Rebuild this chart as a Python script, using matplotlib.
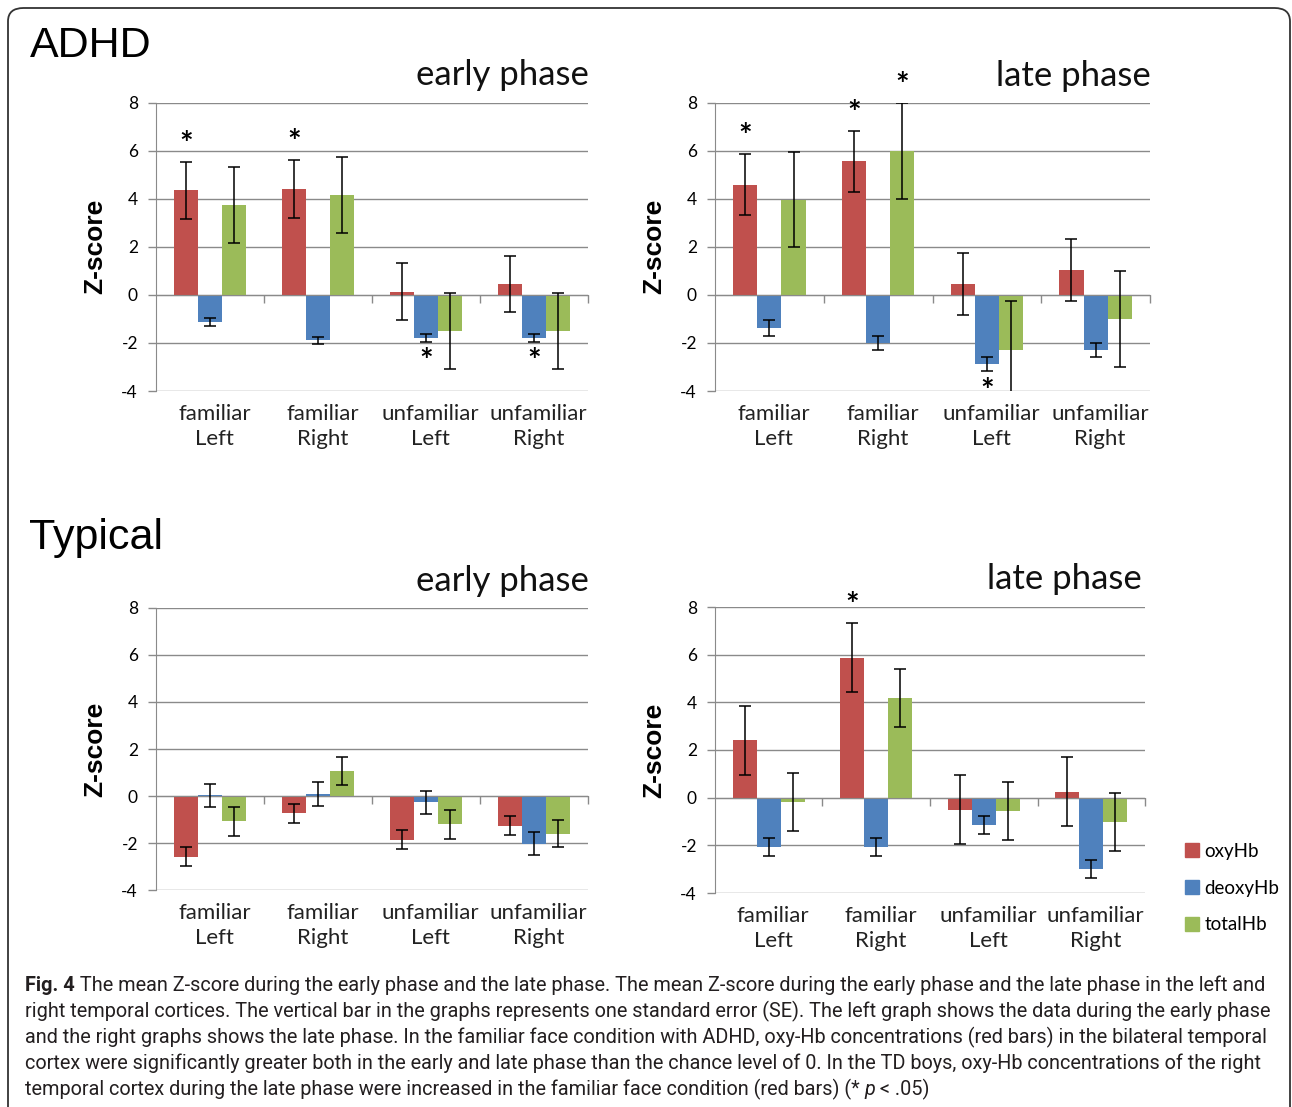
import matplotlib
matplotlib.use("Agg")
import matplotlib.pyplot as plt
import numpy as np
from matplotlib.patches import Patch, FancyBboxPatch
from matplotlib.transforms import blended_transform_factory

W, H = 1292, 1107

categories = ["familiar\nLeft", "familiar\nRight", "unfamiliar\nLeft", "unfamiliar\nRight"]
series = ["oxyHb", "deoxyHb", "totalHb"]
colors = ["#C0504D", "#4F81BD", "#9BBB59"]
yticks = [-4, -2, 0, 2, 4, 6, 8]
ytick_labels = ["-4", "-2", "0", "2", "4", "6", "8"]

# mean z-score, rows = oxy, deoxy, total
adhd_early_mean = [[4.35, 4.41, 0.14, 0.46],
                   [-1.12, -1.89, -1.78, -1.78],
                   [3.76, 4.15, -1.50, -1.50]]
adhd_early_se = [[1.17, 1.20, 1.17, 1.17],
                 [0.16, 0.15, 0.17, 0.17],
                 [1.58, 1.58, 1.58, 1.58]]
adhd_late_mean = [[4.59, 5.56, 0.46, 1.04],
                  [-1.39, -2.02, -2.88, -2.29],
                  [3.97, 5.99, -2.29, -1.00]]
adhd_late_se = [[1.26, 1.26, 1.30, 1.30],
                [0.33, 0.29, 0.30, 0.29],
                [1.98, 2.00, 2.03, 1.99]]
td_early_mean = [[-2.58, -0.73, -1.85, -1.25],
                 [0.03, 0.09, -0.27, -2.02],
                 [-1.07, 1.08, -1.20, -1.59]]
td_early_se = [[0.40, 0.40, 0.40, 0.40],
               [0.48, 0.49, 0.50, 0.50],
               [0.62, 0.59, 0.62, 0.59]]
td_late_mean = [[2.41, 5.88, -0.50, 0.25],
                [-2.07, -2.07, -1.15, -2.98],
                [-0.18, 4.17, -0.57, -1.02]]
td_late_se = [[1.45, 1.44, 1.45, 1.44],
              [0.37, 0.39, 0.39, 0.37],
              [1.20, 1.21, 1.21, 1.20]]

# significance marks: (category, series, side)
adhd_early_stars = [(0, 0, "up"), (1, 0, "up"), (2, 1, "down"), (3, 1, "down")]
adhd_late_stars = [(0, 0, "up"), (1, 0, "up"), (1, 2, "up"), (2, 1, "down")]
td_early_stars = []
td_late_stars = [(1, 0, "up")]

caption_lines = [
    [("Fig. 4", "bold"), (" The mean Z-score during the early phase and the late phase. The mean Z-score during the early phase and the late phase in the left and", "normal")],
    [("right temporal cortices. The vertical bar in the graphs represents one standard error (SE). The left graph shows the data during the early phase", "normal")],
    [("and the right graphs shows the late phase. In the familiar face condition with ADHD, oxy-Hb concentrations (red bars) in the bilateral temporal", "normal")],
    [("cortex were significantly greater both in the early and late phase than the chance level of 0. In the TD boys, oxy-Hb concentrations of the right", "normal")],
    [("temporal cortex during the late phase were increased in the familiar face condition (red bars) (* ", "normal"), ("p", "italic"), (" < .05)", "normal")],
]

CHART_FONT = ["Lato", "DejaVu Sans"]
ARIAL = ["Liberation Sans", "DejaVu Sans"]
CAP_FONT = ["Roboto", "DejaVu Sans"]
GRID = "#8a8a8a"

fig = plt.figure(figsize=(W / 100, H / 100), dpi=100)


def fx(x):
    return x / W


def fy(y):
    return 1 - y / H


def panel(box, mean, se, stars, title, title_xy):
    l, t, r, b = box
    ax = fig.add_axes([fx(l), fy(b), fx(r - l), (b - t) / H])
    x = np.arange(len(categories))
    bw = 0.222
    for i in range(len(series)):
        ax.bar(x + (i - 1) * bw, mean[i], bw, color=colors[i], zorder=2)
        ax.errorbar(x + (i - 1) * bw, mean[i], yerr=se[i], fmt="none",
                    ecolor="black", elinewidth=1.1, capsize=4.5, capthick=1.1, zorder=3)
    # asterisks just past the end of the error bar
    for c, s, side in stars:
        xs = c + (s - 1) * bw
        if side == "up":
            ax.annotate("*", (xs, mean[s][c] + se[s][c]), xytext=(0, 12),
                        textcoords="offset points", ha="center", va="center",
                        fontsize=23, fontweight="bold", family=CHART_FONT,
                        annotation_clip=False)
        else:
            ax.annotate("*", (xs, mean[s][c] - se[s][c]), xytext=(0, -15),
                        textcoords="offset points", ha="center", va="center",
                        fontsize=23, fontweight="bold", family=CHART_FONT,
                        annotation_clip=False)

    ax.set_xlim(-0.5, len(categories) - 0.5)
    ax.set_ylim(-4, 8)
    ax.set_yticks(yticks)
    ax.set_yticklabels(ytick_labels, family=CHART_FONT, fontsize=12.5)
    ax.yaxis.grid(True, color=GRID, lw=1.0, zorder=0)
    ax.set_axisbelow(True)
    for sp in ["top", "right"]:
        ax.spines[sp].set_visible(False)
    ax.spines["left"].set_color(GRID)
    ax.spines["bottom"].set_position(("data", 0))
    ax.spines["bottom"].set_color(GRID)
    ax.spines["bottom"].set_zorder(2.5)
    ax.set_xticks(x + 0.5)
    ax.set_xticklabels([])
    ax.tick_params(axis="x", direction="out", length=6, color=GRID, width=1)
    ax.tick_params(axis="y", direction="out", length=6, color=GRID, width=1, pad=7)

    tr = blended_transform_factory(ax.transData, ax.transAxes)
    for i, lab in enumerate(categories):
        ax.annotate(lab, (i + 0.04, 0), xycoords=tr, xytext=(0, -9.5), textcoords="offset points",
                    ha="center", va="top", fontsize=16, family=CHART_FONT,
                    linespacing=1.28, color="#222222")
    ax.annotate("Z-score", (0, 0.5), xycoords="axes fraction", xytext=(-44, 0),
                textcoords="offset points", rotation=90, ha="center", va="center",
                fontsize=19, fontweight="bold", family=ARIAL)
    fig.text(fx(title_xy[0]), fy(title_xy[1]), title, ha="right", va="baseline",
             fontsize=25, family=CHART_FONT, color="#111111")
    return ax


panel((156, 102.7, 588, 391), adhd_early_mean, adhd_early_se, adhd_early_stars, "early phase", (589, 85))
panel((715, 102.7, 1150, 391), adhd_late_mean, adhd_late_se, adhd_late_stars, "late phase", (1151, 86))
panel((156, 607.7, 588, 890.3), td_early_mean, td_early_se, td_early_stars, "early phase", (589, 591))
panel((715, 607, 1145, 893), td_late_mean, td_late_se, td_late_stars, "late phase", (1142, 589))

fig.text(fx(30), fy(57), "ADHD", ha="left", va="baseline", fontsize=31, family=ARIAL)
fig.text(fx(29), fy(549), "Typical", ha="left", va="baseline", fontsize=31, family=ARIAL)

handles = [Patch(color=c) for c in colors]
fig.legend(handles, series, loc="upper left", bbox_to_anchor=(fx(1168), fy(826)),
           frameon=False, handlelength=0.75, handleheight=0.75, handletextpad=0.3,
           labelspacing=1.05, prop={"family": CHART_FONT, "size": 13.5})

# frame round the figure
frame = FancyBboxPatch((fx(8), -0.05), fx(1282), fy(8) + 0.05, transform=fig.transFigure,
                       boxstyle="round,pad=0,rounding_size=0.012", fill=False,
                       ec="#333333", lw=1.3, clip_on=False)
fig.add_artist(frame)

# caption, pieces laid out one after another
cap_texts = []
baselines = [991, 1017, 1043, 1069, 1095]
for line, yb in zip(caption_lines, baselines):
    row = []
    for txt, style in line:
        kw = {"fontweight": "bold"} if style == "bold" else {}
        if style == "italic":
            kw = {"fontstyle": "italic"}
        t = fig.text(fx(25), fy(yb), txt, ha="left", va="baseline", fontsize=12,
                     family=CAP_FONT, color="#231f20", **kw)
        row.append(t)
    cap_texts.append(row)


def layout(size):
    for row in cap_texts:
        for t in row:
            t.set_fontsize(size)
    fig.canvas.draw()
    r = fig.canvas.get_renderer()
    for row in cap_texts:
        xpos = 25
        for t in row:
            t.set_x(fx(xpos))
            xpos += t.get_window_extent(r).width
    fig.canvas.draw()
    return sum(t.get_window_extent(r).width for t in cap_texts[0])


size = 12
w = layout(size)
size = size * 1240 / w
layout(size)

fig.savefig("out.png", dpi=100)
